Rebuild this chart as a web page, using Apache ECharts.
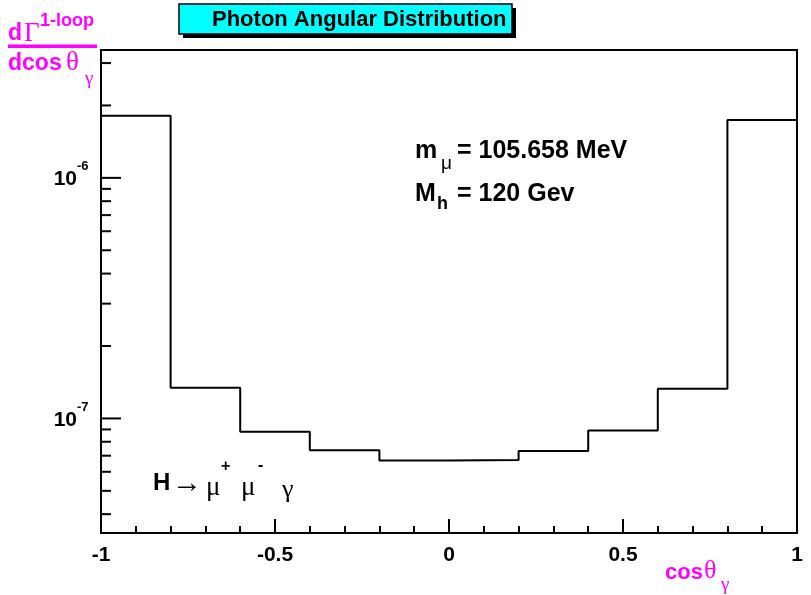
<!DOCTYPE html>
<html>
<head>
<meta charset="utf-8">
<script src="https://cdn.jsdelivr.net/npm/echarts@6/dist/echarts.min.js"></script>
<style>
  html, body { margin: 0; padding: 0; background: #fff; }
  #chart { width: 811px; height: 595px; }
</style>
</head>
<body>
<div id="chart"></div>
<script>
// Histogram bin edges in cos(theta_gamma) and the one-loop rate per bin
const binEdges = [-1, -0.8, -0.6, -0.4, -0.2, 0, 0.2, 0.4, 0.6, 0.8, 1];
const binValues = [1.81e-6, 1.34e-7, 8.80e-8, 7.38e-8, 6.69e-8, 6.72e-8, 7.33e-8, 8.91e-8, 1.33e-7, 1.74e-6];

// Log-axis range and its tick marks
const yMin = 3.34e-8;
const yMax = 3.40e-6;
const yMajorTicks = [1e-7, 1e-6];
const yMajorExponents = ['-7', '-6'];
const yMinorTicks = [4e-8, 5e-8, 6e-8, 7e-8, 8e-8, 9e-8,
                     2e-7, 3e-7, 4e-7, 5e-7, 6e-7, 7e-7, 8e-7, 9e-7,
                     2e-6, 3e-6];

const SANS = '"Liberation Sans", Arial, sans-serif';
const SERIF = '"Liberation Serif", "Times New Roman", serif';
const MAGENTA = '#ff00ff';

// step points: each edge carries the value of the bin starting there
const stepData = binEdges.map((x, i) => [x, binValues[Math.min(i, binValues.length - 1)]]);

const tickData = []
  .concat(yMajorTicks.map((v, i) => [-1, v, 1, i]))
  .concat(yMinorTicks.map(v => [-1, v, 0, -1]));

const chart = echarts.init(document.getElementById('chart'), null, { renderer: 'canvas' });

function txt(x, y, text, font, opts) {
  return {
    type: 'text', x: x, y: y, silent: true, z: 10,
    style: Object.assign({ text: text, font: font, fill: '#000', align: 'left', verticalAlign: 'middle' }, opts || {})
  };
}

chart.setOption({
  animation: false,
  backgroundColor: '#fff',
  grid: { left: 101, right: 14, top: 50, bottom: 62, show: true, borderColor: '#000', borderWidth: 2, backgroundColor: 'transparent' },
  xAxis: {
    type: 'value', min: -1, max: 1, interval: 0.5,
    axisLine: { show: true, onZero: false, lineStyle: { color: '#000', width: 2 } },
    axisTick: { show: true, inside: true, length: 14, lineStyle: { color: '#000', width: 2 } },
    minorTick: { show: true, splitNumber: 5, length: 7, lineStyle: { color: '#000', width: 2 } },
    splitLine: { show: false },
    axisLabel: {
      margin: 12, color: '#000', fontFamily: SANS, fontWeight: 'bold', fontSize: 21,
      formatter: v => String(Math.round(v * 10) / 10)
    }
  },
  yAxis: {
    type: 'log', logBase: 10, min: yMin, max: yMax,
    axisLine: { show: true, onZero: false, lineStyle: { color: '#000', width: 2 } },
    axisTick: { show: false },
    axisLabel: { show: false },
    splitLine: { show: false }
  },
  series: [
    {
      type: 'line',
      step: 'end',
      data: stepData,
      symbol: 'none',
      lineStyle: { color: '#000', width: 2 },
      z: 3
    },
    {
      // y-axis tick marks and 10^n labels placed through the log scale
      type: 'custom',
      clip: false,
      data: tickData,
      renderItem: function (params, api) {
        const p = api.coord([api.value(0), api.value(1)]);
        const major = api.value(2) === 1;
        const len = major ? 20 : 10;
        const children = [{
          type: 'line',
          shape: { x1: p[0], y1: p[1], x2: p[0] + len, y2: p[1] },
          style: { stroke: '#000', lineWidth: 2 }
        }];
        if (major) {
          const exp = yMajorExponents[api.value(3)];
          children.push({
            type: 'text', x: p[0] - 24, y: p[1] + 1.5,
            style: { text: '10', font: 'bold 21px ' + SANS, fill: '#000', align: 'right', verticalAlign: 'middle' }
          });
          children.push({
            type: 'text', x: p[0] - 24, y: p[1] - 11,
            style: { text: exp, font: 'bold 13px ' + SANS, fill: '#000', align: 'left', verticalAlign: 'middle' }
          });
        }
        return { type: 'group', children: children };
      },
      z: 4
    }
  ],
  graphic: [
    // title box with drop shadow
    { type: 'rect', shape: { x: 183, y: 8, width: 333, height: 30 }, style: { fill: '#000' }, silent: true },
    { type: 'rect', shape: { x: 179, y: 4, width: 333, height: 30 }, style: { fill: '#00ffff', stroke: '#000', lineWidth: 1.5 }, silent: true },
    txt(212, 20, 'Photon Angular Distribution', 'bold 22px ' + SANS),

    // y-axis title: dΓ^(1-loop) / dcos θγ
    txt(8, 34, 'd', 'bold 23px ' + SANS, { fill: MAGENTA }),
    txt(24, 34, 'Γ', '27px ' + SERIF, { fill: MAGENTA }),
    txt(40, 21.5, '1-loop', 'bold 18px ' + SANS, { fill: MAGENTA }),
    { type: 'rect', shape: { x: 8, y: 44.5, width: 89, height: 3.5 }, style: { fill: MAGENTA }, silent: true },
    txt(8, 64, 'dcos', 'bold 23px ' + SANS, { fill: MAGENTA }),
    txt(66, 63, 'θ', '27px ' + SERIF, { fill: MAGENTA }),
    txt(85, 79, 'γ', '19px ' + SERIF, { fill: MAGENTA }),

    // x-axis title: cos θγ
    txt(665, 573, 'cos', 'bold 22px ' + SANS, { fill: MAGENTA }),
    txt(704, 571, 'θ', '26px ' + SERIF, { fill: MAGENTA }),
    txt(721, 585, 'γ', '19px ' + SERIF, { fill: MAGENTA }),

    // parameter annotations
    txt(415, 151, 'm', 'bold 25px ' + SANS),
    txt(441, 164, 'μ', '19px ' + SANS),
    txt(457, 151, '= 105.658 MeV', 'bold 25px ' + SANS),
    txt(415, 194, 'M', 'bold 25px ' + SANS),
    txt(437, 204, 'h', 'bold 18px ' + SANS),
    txt(457, 194, '= 120 Gev', 'bold 25px ' + SANS),

    // process label
    txt(153, 483, 'H', 'bold 24px ' + SANS),
    txt(172, 484, '→', '30px ' + SERIF),
    txt(206, 488, 'μ', '27px ' + SERIF),
    txt(221, 467, '+', 'bold 16px ' + SANS),
    txt(241, 488, 'μ', '27px ' + SERIF),
    txt(258, 466, '-', 'bold 16px ' + SANS),
    txt(282, 490, 'γ', '26px ' + SERIF)
  ]
});
</script>
</body>
</html>
